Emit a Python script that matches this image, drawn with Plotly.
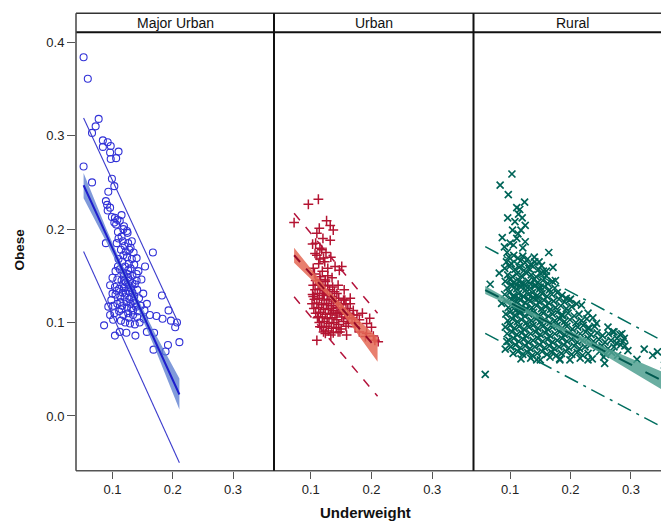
import plotly.graph_objects as go

# ---------------- data ----------------
panels = ["Major Urban", "Urban", "Rural"]
x_ticks = [0.1, 0.2, 0.3]
y_ticks = [0.0, 0.1, 0.2, 0.3, 0.4]

mu_x = [0.052,0.059,0.077,0.072,0.066,0.052,0.066,0.084,0.092,0.084,0.097,0.096,0.110,0.106,0.097,
        0.099,0.103,0.093,0.089,0.091,0.096,0.092,0.099,0.115,0.104,0.103,0.119,0.118,0.109,0.115,0.132,0.089,0.167,
        0.106,0.112,0.108,0.124,0.125,0.11,0.117,0.126,0.12,0.13,0.107,0.114,0.122,0.128,0.135,0.118,0.124,0.132,0.14,
        0.11,0.116,0.127,0.136,0.154,0.121,0.13,0.112,0.105,0.118,0.125,0.133,0.14,0.148,0.1,0.108,0.115,0.122,0.129,
        0.137,0.096,0.104,0.111,0.119,0.126,0.133,0.141,0.151,0.098,0.105,0.113,0.12,0.128,0.135,0.144,0.182,0.093,
        0.101,0.108,0.116,0.124,0.131,0.139,0.147,0.157,0.103,0.111,0.118,0.126,0.134,0.141,0.162,0.173,0.193,0.183,
        0.197,0.207,0.204,0.096,0.101,0.114,0.121,0.129,0.137,0.145,0.152,0.086,0.104,0.112,0.123,0.138,0.157,0.169,
        0.211,0.192,0.188,0.168,0.12,0.127,0.131,0.117,0.136,0.123,0.13,0.142,0.127,0.134,0.115,0.119,0.109,0.126,
        0.14,0.143,0.1,0.107,0.153,0.122,0.129,0.118,0.133,0.126,0.113,0.138]
mu_y = [0.384,0.361,0.318,0.310,0.303,0.267,0.250,0.295,0.293,0.288,0.289,0.282,0.283,0.276,0.275,
        0.254,0.246,0.240,0.230,0.226,0.223,0.220,0.213,0.215,0.212,0.207,0.203,0.200,0.197,0.192,0.187,0.185,0.175,
        0.205,0.209,0.210,0.198,0.196,0.19,0.187,0.185,0.182,0.18,0.185,0.178,0.176,0.178,0.175,0.172,0.17,0.168,0.169,
        0.168,0.165,0.163,0.162,0.16,0.16,0.158,0.157,0.155,0.153,0.152,0.15,0.152,0.146,0.148,0.146,0.145,0.143,0.145,
        0.141,0.14,0.138,0.136,0.137,0.134,0.132,0.135,0.131,0.124,0.13,0.128,0.127,0.125,0.123,0.126,0.129,0.117,
        0.118,0.12,0.118,0.116,0.115,0.117,0.118,0.12,0.11,0.112,0.108,0.11,0.108,0.106,0.108,0.107,0.113,0.104,
        0.102,0.1,0.095,0.108,0.103,0.102,0.1,0.099,0.098,0.1,0.104,0.097,0.086,0.09,0.089,0.086,0.09,0.089,
        0.079,0.076,0.069,0.071,0.145,0.14,0.137,0.132,0.128,0.122,0.12,0.112,0.105,0.113,0.114,0.15,0.16,0.156,
        0.145,0.155,0.131,0.134,0.113,0.131,0.133,0.141,0.142,0.148,0.122,0.121]

ur_x = [0.1125,0.096,0.0725,0.126,0.132,0.137,0.114,0.11,0.132,0.103,0.115,0.107,0.121,0.151,0.147,0.104,
        0.115,0.124,0.104,0.156,0.165,0.121,0.126,0.1345,0.143,0.17,0.192,0.173,0.159,0.192,0.203,0.211,
        0.133,0.115,0.1125,0.11,0.124,0.148,0.197,0.2055,
        0.108,0.116,0.124,
        0.104,0.112,0.12,0.128,0.136,
        0.107,0.115,0.123,0.131,0.139,
        0.103,0.111,0.119,0.127,0.135,0.143,
        0.106,0.114,0.122,0.13,0.138,0.146,0.154,
        0.102,0.11,0.118,0.126,0.134,0.142,0.15,0.158,
        0.105,0.113,0.121,0.129,0.137,0.145,0.153,0.161,0.17,
        0.108,0.116,0.124,0.132,0.14,0.148,0.156,0.164,0.176,
        0.111,0.119,0.127,0.135,0.143,0.151,0.16,0.168,0.18,
        0.114,0.122,0.13,0.138,0.146,0.154,0.162,0.172,
        0.118,0.126,0.134,0.142,0.15,0.158,
        0.121,0.129,0.137,0.145,
        0.108,0.118,0.11,0.123,0.113,0.106,0.119,0.128,0.115,0.12,0.125,0.133,0.14,0.128,0.135,0.145,
        0.155,0.165,0.185,0.2,0.18,0.19]
ur_y = [0.232,0.2265,0.207,0.209,0.204,0.199,0.201,0.1955,0.188,0.184,0.1795,0.174,0.169,0.16,0.156,0.158,
        0.149,0.1455,0.128,0.124,0.126,0.131,0.1205,0.115,0.11,0.108,0.099,0.0955,0.0866,0.0884,0.0855,0.0795,
        0.0866,0.0955,0.1062,0.081,0.0884,0.09,0.1045,0.081,
        0.145,0.146,0.144,
        0.14,0.141,0.139,0.14,0.138,
        0.135,0.136,0.134,0.135,0.133,
        0.13,0.131,0.129,0.13,0.128,0.131,
        0.125,0.126,0.124,0.125,0.123,0.126,0.124,
        0.12,0.121,0.119,0.12,0.118,0.121,0.119,0.12,
        0.115,0.116,0.114,0.115,0.113,0.116,0.114,0.115,0.113,
        0.11,0.111,0.109,0.11,0.108,0.111,0.109,0.11,0.108,
        0.105,0.106,0.104,0.105,0.103,0.106,0.104,0.105,0.103,
        0.1,0.101,0.099,0.1,0.098,0.101,0.099,0.1,
        0.095,0.096,0.094,0.095,0.093,0.096,
        0.09,0.091,0.089,0.09,
        0.185,0.178,0.172,0.165,0.163,0.152,0.155,0.158,0.168,0.19,0.175,0.17,0.16,0.15,0.148,0.14,
        0.135,0.12,0.11,0.095,0.09,0.085]

ru_x = [0.103,0.0835,0.097,0.124,0.111,0.116,0.114,0.096,0.125,0.104,0.118,0.087,0.111,0.125,0.0906,0.1055,
        0.164,0.171,0.152,0.082,0.067,0.0588,0.092,0.243,0.229,0.229,0.218,0.193,0.185,0.322,0.336,0.344,
        0.3554,0.31,0.289,0.276,0.2565,0.229,0.1824,0.144,0.0946,0.086,
        0.108,0.12,0.113,0.1,0.121,0.095,0.14,0.148,0.16,0.175,0.2,0.21,0.237,0.262,0.27,0.285,0.29,0.295,
        0.098,0.106,0.113,0.121,0.129,
        0.094,0.102,0.117,0.125,0.134,0.141,
        0.091,0.099,0.108,0.115,0.123,0.131,0.138,0.147,0.155,
        0.096,0.104,0.111,0.119,0.127,0.135,0.143,0.151,0.16,
        0.092,0.1,0.107,0.115,0.122,0.13,0.139,0.146,0.154,0.162,0.17,
        0.095,0.103,0.111,0.118,0.126,0.134,0.141,0.149,0.157,0.165,0.174,
        0.091,0.099,0.106,0.114,0.122,0.13,0.137,0.145,0.153,0.161,0.169,0.178,0.186,
        0.094,0.102,0.11,0.117,0.125,0.133,0.141,0.148,0.156,0.164,0.172,0.181,0.19,0.198,
        0.097,0.105,0.113,0.12,0.128,0.136,0.144,0.152,0.159,0.167,0.175,0.184,0.193,0.202,
        0.093,0.1,0.108,0.116,0.124,0.131,0.139,0.147,0.155,0.163,0.17,0.178,0.187,0.196,0.206,0.214,
        0.096,0.104,0.112,0.119,0.127,0.135,0.143,0.15,0.158,0.166,0.174,0.182,0.19,0.199,0.209,0.218,0.227,
        0.092,0.1,0.107,0.115,0.123,0.131,0.138,0.146,0.154,0.162,0.17,0.178,0.186,0.194,0.203,0.212,0.221,0.231,0.24,
        0.095,0.103,0.111,0.119,0.126,0.134,0.142,0.15,0.158,0.166,0.174,0.182,0.19,0.198,0.207,0.216,0.225,0.234,0.244,0.253,0.263,0.272,0.282,
        0.098,0.106,0.114,0.122,0.13,0.138,0.146,0.154,0.162,0.17,0.178,0.186,0.194,0.202,0.211,0.22,0.229,0.238,0.247,0.257,0.267,0.277,0.287,
        0.101,0.109,0.117,0.125,0.133,0.141,0.149,0.157,0.165,0.173,0.181,0.189,0.197,0.206,0.215,0.224,0.233,0.243,0.252,0.262,0.272,0.283,
        0.105,0.113,0.121,0.129,0.137,0.145,0.153,0.161,0.169,0.177,0.185,0.193,0.202,0.211,0.22,0.229,0.248,0.258,0.268,0.278,
        0.118,0.134,0.15,0.166,0.182,0.199,0.216,0.236,0.255,
        0.102,0.11,0.118,0.126,0.134,0.142,0.15,0.106,0.114,0.122,0.13,0.138,0.146,0.109,0.117,0.125,0.133]
ru_y = [0.259,0.247,0.237,0.229,0.223,0.221,0.216,0.212,0.204,0.199,0.199,0.191,0.19,0.1865,0.181,0.183,
        0.175,0.159,0.161,0.153,0.141,0.0445,0.0716,0.0992,0.094,0.11,0.1187,0.126,0.108,0.0716,0.065,0.0687,
        0.0545,0.0606,0.083,0.078,0.0563,0.06,0.06,0.06,0.0795,0.1206,
        0.208,0.212,0.195,0.185,0.18,0.175,0.17,0.165,0.155,0.145,0.125,0.12,0.105,0.095,0.09,0.088,0.075,0.07,
        0.17,0.172,0.169,0.171,0.168,
        0.165,0.163,0.166,0.164,0.162,0.165,
        0.158,0.16,0.157,0.159,0.156,0.158,0.16,0.157,0.155,
        0.151,0.149,0.152,0.15,0.153,0.151,0.149,0.152,0.15,
        0.144,0.146,0.143,0.145,0.142,0.144,0.146,0.143,0.145,0.142,0.144,
        0.137,0.139,0.136,0.138,0.135,0.137,0.139,0.136,0.138,0.135,0.137,
        0.13,0.132,0.129,0.131,0.128,0.13,0.132,0.129,0.131,0.128,0.13,0.132,0.129,
        0.123,0.125,0.122,0.124,0.121,0.123,0.125,0.122,0.124,0.121,0.123,0.125,0.122,0.124,
        0.116,0.118,0.115,0.117,0.114,0.116,0.118,0.115,0.117,0.114,0.116,0.118,0.115,0.117,
        0.109,0.111,0.108,0.11,0.107,0.109,0.111,0.108,0.11,0.107,0.109,0.111,0.108,0.11,0.107,0.109,
        0.102,0.104,0.101,0.103,0.1,0.102,0.104,0.101,0.103,0.1,0.102,0.104,0.101,0.103,0.1,0.102,0.104,
        0.095,0.097,0.094,0.096,0.093,0.095,0.097,0.094,0.096,0.093,0.095,0.097,0.094,0.096,0.093,0.095,0.097,0.094,0.096,
        0.088,0.09,0.087,0.089,0.086,0.088,0.09,0.087,0.089,0.086,0.088,0.09,0.087,0.089,0.086,0.088,0.09,0.087,0.089,0.086,0.088,0.09,0.087,
        0.081,0.083,0.08,0.082,0.079,0.081,0.083,0.08,0.082,0.079,0.081,0.083,0.08,0.082,0.079,0.081,0.083,0.08,0.082,0.079,0.081,0.083,0.08,
        0.074,0.076,0.073,0.075,0.072,0.074,0.076,0.073,0.075,0.072,0.074,0.076,0.073,0.075,0.072,0.074,0.076,0.073,0.075,0.072,0.074,0.076,
        0.067,0.069,0.066,0.068,0.065,0.067,0.069,0.066,0.068,0.065,0.067,0.069,0.066,0.068,0.065,0.067,0.069,0.066,0.068,0.065,
        0.061,0.062,0.06,0.063,0.061,0.06,0.062,0.061,0.063,
        0.141,0.14,0.142,0.139,0.141,0.14,0.138,0.127,0.126,0.128,0.125,0.127,0.126,0.113,0.112,0.114,0.111]

# fitted line, confidence band, prediction band
mu_fx = [0.052, 0.09, 0.13, 0.17, 0.211]
mu_fit = [0.247, 0.193, 0.137, 0.081, 0.023]
mu_ci_lo = [0.233, 0.186, 0.133, 0.073, 0.007]
mu_ci_hi = [0.260, 0.200, 0.141, 0.089, 0.040]
mu_pi_lo = [0.176, 0.121, 0.065, 0.009, -0.050]
mu_pi_hi = [0.319, 0.265, 0.208, 0.153, 0.097]

ur_fx = [0.0725, 0.1, 0.13, 0.16, 0.21]
ur_fit = [0.172, 0.152, 0.1305, 0.1085, 0.071]
ur_ci_lo = [0.164, 0.146, 0.1275, 0.103, 0.058]
ur_ci_hi = [0.180, 0.158, 0.1335, 0.114, 0.084]
ur_pi_lo = [0.1276, 0.107, 0.084, 0.061, 0.021]
ur_pi_hi = [0.217, 0.196, 0.172, 0.149, 0.110]

ru_fx = [0.0588, 0.12, 0.18, 0.25, 0.3554]
ru_fit = [0.1348, 0.1145, 0.0947, 0.0715, 0.0366]
ru_ci_lo = [0.1306, 0.1122, 0.0925, 0.0675, 0.0268]
ru_ci_hi = [0.139, 0.1168, 0.0969, 0.0755, 0.0464]
ru_pi_lo = [0.0884, 0.0674, 0.0468, 0.0228, -0.0132]
ru_pi_hi = [0.1812, 0.1602, 0.1396, 0.1155, 0.0794]

# ---------------- figure ----------------
W, H = 669, 522
OFF = 8.0  # page body margin in the browser
L, P1R, P2R, P3R = 76.0, 274.0, 473.5, 672.0
BOT, TOP, STRIP_TOP = 470.7, 32.3, 13.3
px = lambda v: (v - OFF) / W
py = lambda v: (H - (v - OFF)) / H

XR = [0.0394, 0.368]
YR = [-0.0586, 0.4107]

fig = go.Figure()

specs = [
    ("x", mu_x, mu_y, "circle-open", 7, 1.1, "rgb(50,50,215)",
     mu_fx, mu_fit, mu_ci_lo, mu_ci_hi, mu_pi_lo, mu_pi_hi,
     "rgba(85,120,205,0.75)", "rgb(30,30,205)", "solid", "rgb(60,60,205)", "solid", 1.1),
    ("x2", ur_x, ur_y, "cross-thin-open", 7, 1.5, "rgb(180,20,50)",
     ur_fx, ur_fit, ur_ci_lo, ur_ci_hi, ur_pi_lo, ur_pi_hi,
     "rgba(228,105,85,0.85)", "rgb(150,10,40)", "dash", "rgb(180,20,60)", "dash", 1.5),
    ("x3", ru_x, ru_y, "x-thin-open", 7, 1.7, "rgb(0,100,88)",
     ru_fx, ru_fit, ru_ci_lo, ru_ci_hi, ru_pi_lo, ru_pi_hi,
     "rgba(80,160,145,0.85)", "rgb(0,90,80)", "longdash", "rgb(0,110,95)", "longdashdot", 1.5),
]

for (xa, xs, ys, sym, sz, lw, col, fx, fit, clo, chi, plo, phi,
     bandcol, fitcol, fitdash, picol, pidash, piw) in specs:
    fig.add_trace(go.Scatter(x=xs, y=ys, mode="markers", xaxis=xa, yaxis="y",
                             marker=dict(symbol=sym, size=sz, color=col,
                                         line=dict(width=lw, color=col)),
                             showlegend=False, hoverinfo="skip"))
    fig.add_trace(go.Scatter(x=fx + fx[::-1], y=chi + clo[::-1], mode="lines",
                             xaxis=xa, yaxis="y", fill="toself", fillcolor=bandcol,
                             line=dict(width=0, color=bandcol),
                             showlegend=False, hoverinfo="skip"))
    fig.add_trace(go.Scatter(x=fx, y=fit, mode="lines", xaxis=xa, yaxis="y",
                             line=dict(color=fitcol, width=2, dash=fitdash),
                             showlegend=False, hoverinfo="skip"))
    for arr in (plo, phi):
        fig.add_trace(go.Scatter(x=[fx[0], fx[-1]], y=[arr[0], arr[-1]], mode="lines",
                                 xaxis=xa, yaxis="y",
                                 line=dict(color=picol, width=piw, dash=pidash),
                                 showlegend=False, hoverinfo="skip"))

FONT = "Liberation Sans, Arial, sans-serif"
tickfont = dict(family=FONT, size=13, color="#222")
xcommon = dict(showgrid=False, zeroline=False, showline=False, ticks="outside",
               ticklen=7, tickwidth=1, tickcolor="#555", tickvals=x_ticks,
               ticktext=[f"{v:.1f}" for v in x_ticks], tickfont=tickfont, anchor="y",
               range=XR)

fig.update_layout(
    width=W, height=H,
    margin=dict(l=0, r=0, t=0, b=0),
    paper_bgcolor="white", plot_bgcolor="white",
    showlegend=False,
    xaxis=dict(domain=[px(L), px(P1R)], **xcommon),
    xaxis2=dict(domain=[px(P1R), px(P2R)], **xcommon),
    xaxis3=dict(domain=[px(P2R), px(P3R)], **xcommon),
    yaxis=dict(domain=[py(BOT), py(TOP)], range=YR, showgrid=False, zeroline=False,
               showline=False, ticks="outside", ticklen=8, tickwidth=1, tickcolor="#555",
               tickvals=y_ticks, ticktext=[f"{v:.1f}" for v in y_ticks],
               tickfont=tickfont, anchor="x"),
)

shapes = []
def line(x0, y0, x1, y1, color, width):
    shapes.append(dict(type="line", xref="paper", yref="paper",
                       x0=x0, y0=y0, x1=x1, y1=y1,
                       line=dict(color=color, width=width)))

line(px(L), py(STRIP_TOP), 1.0, py(STRIP_TOP), "#333", 1.5)
line(px(L), py(TOP), 1.0, py(TOP), "#111", 2)
line(px(L), py(BOT), 1.0, py(BOT), "#555", 1.5)
line(px(L), py(BOT), px(L), py(STRIP_TOP), "#444", 1.5)
line(px(P1R), py(BOT), px(P1R), py(STRIP_TOP), "#111", 2)
line(px(P2R), py(BOT), px(P2R), py(STRIP_TOP), "#111", 2)
fig.update_layout(shapes=shapes)

annots = []
centers = [(L + P1R) / 2, (P1R + P2R) / 2, (P2R + P3R) / 2]
for name, c in zip(panels, centers):
    annots.append(dict(text=name, x=px(c), y=py((STRIP_TOP + TOP) / 2), xref="paper", yref="paper",
                       showarrow=False, xanchor="center", yanchor="middle",
                       font=dict(family=FONT, size=14, color="#111")))
annots.append(dict(text="<b>Underweight</b>", x=px(365), y=py(512), xref="paper", yref="paper",
                   showarrow=False, xanchor="center", yanchor="middle",
                   font=dict(family=FONT, size=15, color="#111")))
annots.append(dict(text="<b>Obese</b>", x=px(18.5), y=py(250), xref="paper", yref="paper",
                   showarrow=False, xanchor="center", yanchor="middle", textangle=-90,
                   font=dict(family=FONT, size=13.5, color="#111")))
fig.update_layout(annotations=annots)

fig.write_html("out.html")
